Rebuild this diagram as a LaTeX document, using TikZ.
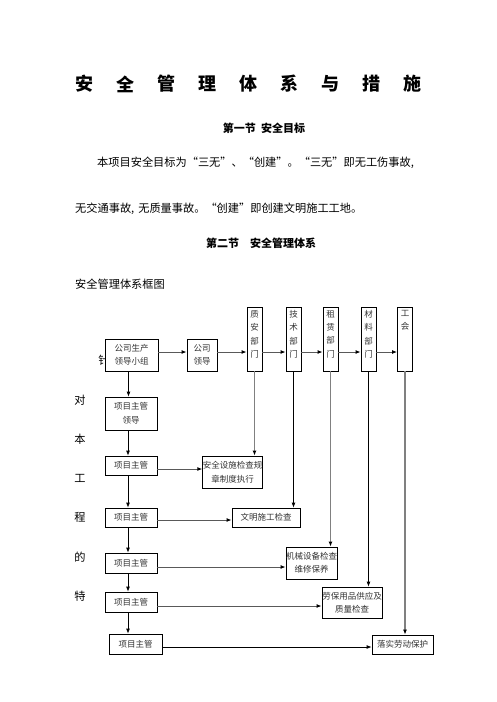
\documentclass[tikz,border=0pt]{standalone}
\usepackage{fontspec}
\newfontfamily\cjk{Noto Sans CJK SC}
\usetikzlibrary{arrows.meta,positioning}

\tikzset{
  body/.style={inner sep=0pt,font=\cjk\fontsize{11.2}{13}\selectfont},
  head/.style={inner sep=0pt,font=\cjk\bfseries\fontsize{11}{13}\selectfont},
  box/.style={draw,line width=0.8pt,fill=white,inner sep=0pt,align=center,
    text=black!80,font=\cjk\fontsize{8.5}{13.5}\selectfont},
  dept/.style={draw,line width=0.8pt,fill=white,minimum width=15,minimum height=64,inner sep=0pt},
  depttext/.style={inner sep=0pt,align=center,text=black!80,font=\cjk\fontsize{8.5}{13.3}\selectfont},
  arr/.style={-{Latex[length=5pt,width=4pt,color=black]},line width=1pt,black!65},
  feed/.style={-{Latex[length=5pt,width=4pt,color=black]},line width=1.9pt,black!50},
  link/.style={-{Latex[length=5pt,width=4pt]},line width=0.8pt,black}
}

\begin{document}
\begin{tikzpicture}[x=1pt,y=-1pt]
\useasboundingbox (0,0) rectangle (496,702);
% headings and text
\foreach \c [count=\i from 0] in {安,全,管,理,体,系,与,措,施}
  \node[inner sep=0pt,font=\cjk\bfseries\fontsize{18}{18}\selectfont] (title\i) at ({84+41*\i},84) {\c};
\node[head] (sec1) at (264,128) {第一节\ \ 安全目标};
\node[body,anchor=west] (par1) at (97,163) {本项目安全目标为“三无”、“创建”。“三无”即无工伤事故,};
\node[body,anchor=west] (par2) at (75,209) {无交通事故,\hspace{4pt}无质量事故。“创建”即创建文明施工工地。};
\node[head] (sec2) at (261,243) {第二节\quad 安全管理体系};
\node[body,anchor=west] (frame) at (75,284) {安全管理体系框图};
% side text
\node[body] (side) at (104,360) {针};
\foreach \c [count=\i from 0] in {对,本,工,程,的,特}
  \node[body] (side\i) at (80,{400+39.2*\i}) {\c};

% top row
\node[box,minimum width=53,minimum height=32] (group) at (131.5,355) {公司生产\\领导小组};
\node[box,minimum width=30,minimum height=32] (lead) at (202,355) {公司\\领导};
\foreach \n/\x/\t in {zhian/254.5/质\\安\\部\\门, jishu/293.5/技\\术\\部\\门,
    zulin/330.5/租\\赁\\部\\门, cailiao/368.5/材\\料\\部\\门, union/405/工\\会} {
  \node[dept] (\n) at (\x,339) {};
  \node[depttext,anchor=north] (\n-t) at ([yshift=-3.5pt]\n.north) {\t};
}
\coordinate (row) at (0,352);

% left column
\node[box,minimum width=52,minimum height=33] (mgrlead) at (131,413.5) {项目主管\\领导};
\node[box,minimum width=52,minimum height=19] (mgr1) at (131,465.5) {项目主管};
\node[box,minimum width=52,minimum height=19] (mgr2) at (131,517.5) {项目主管};
\node[box,minimum width=52,minimum height=20] (mgr3) at (131,563) {项目主管};
\node[box,minimum width=52,minimum height=20] (mgr4) at (131,602) {项目主管};
\node[box,minimum width=53,minimum height=20] (mgr5) at (135.5,644) {项目主管};

% right side tasks
\node[box,minimum width=59,minimum height=32] (safety) at (232.5,472) {安全设施检查规\\章制度执行};
\node[box,minimum width=68,minimum height=19] (civil) at (266,517.5) {文明施工检查};
\node[box,minimum width=51,minimum height=32] (machine) at (311.5,563) {机械设备检查\\维修保养};
\node[box,minimum width=60,minimum height=31] (gear) at (352,602.5) {劳保用品供应及\\质量检查};
\node[box,minimum width=61,minimum height=19] (protect) at (402.5,644.5) {落实劳动保护};

% connectors
\draw[arr] (group.east |- row) -- (lead.west |- row);
\draw[arr] (lead.east |- row) -- (zhian.west |- row);
\foreach \a/\b in {zhian/jishu, jishu/zulin, zulin/cailiao, cailiao/union}
  \draw[arr] (\a.east |- row) -- (\b.west |- row);

\foreach \a/\b in {group/mgrlead, mgrlead/mgr1, mgr1/mgr2, mgr2/mgr3, mgr3/mgr4}
  \draw[link] ([xshift=-3pt]\a.south) -- ([xshift=-3pt]\a.south |- \b.north);
\draw[link] ([xshift=-3pt]mgr4.south) -- ([xshift=-3pt]mgr4.south |- mgr5.north);

\draw[feed] (zhian.south) -- (zhian.south |- safety.north);
\draw[link] (jishu.south) -- (jishu.south |- civil.north);
\draw[feed] (zulin.south) -- (zulin.south |- machine.north);
\draw[link] (cailiao.south) -- (cailiao.south |- gear.north);
\draw[feed] (union.south) -- (union.south |- protect.north);

\draw[arr] ([yshift=-3.5pt]mgr1.east) -- ([yshift=-3.5pt]mgr1.east -| safety.west);
\draw[arr] ([yshift=-2.5pt]mgr2.east) -- ([yshift=-2.5pt]mgr2.east -| civil.west);
\draw[arr] ([yshift=-4pt]mgr3.east) -- ([yshift=-4pt]mgr3.east -| machine.west);
\draw[arr] ([yshift=-4pt]mgr4.east) -- ([yshift=-4pt]mgr4.east -| gear.west);
\draw[link] ([yshift=-3pt]mgr5.east) -- ([yshift=-3pt]mgr5.east -| protect.west);
\end{tikzpicture}
\end{document}
